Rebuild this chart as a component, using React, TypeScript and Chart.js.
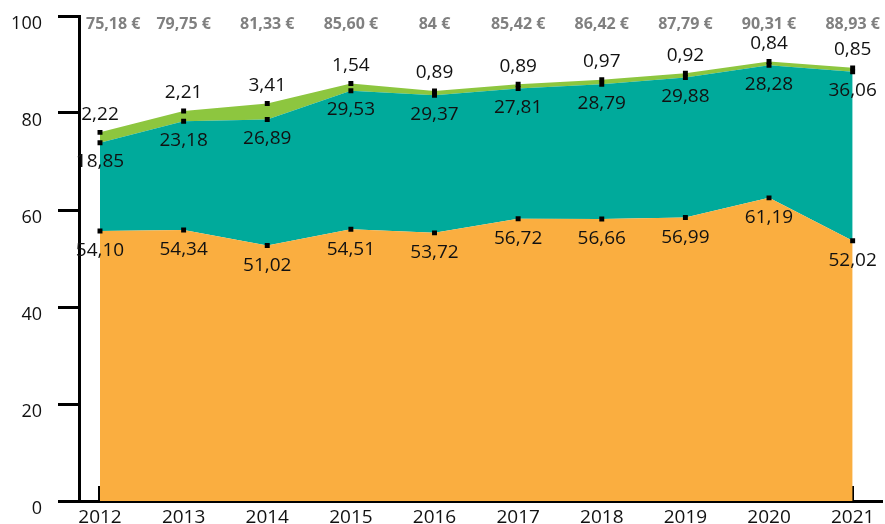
import React, { useEffect, useRef } from "react";
import { Chart, registerables } from "chart.js";

Chart.register(...registerables);

const years = [2012, 2013, 2014, 2015, 2016, 2017, 2018, 2019, 2020, 2021];
const orangeValues = [54.1, 54.34, 51.02, 54.51, 53.72, 56.72, 56.66, 56.99, 61.19, 52.02];
const tealValues = [18.85, 23.18, 26.89, 29.53, 29.37, 27.81, 28.79, 29.88, 28.28, 36.06];
const greenValues = [2.22, 2.21, 3.41, 1.54, 0.89, 0.89, 0.97, 0.92, 0.84, 0.85];
const totalLabels = ["75,18 €", "79,75 €", "81,33 €", "85,60 €", "84 €", "85,42 €", "86,42 €", "87,79 €", "90,31 €", "88,93 €"];
const yTicks = [0, 20, 40, 60, 80, 100];

const fmt = (v: number) => v.toFixed(2).replace(".", ",");

const labelPlugin = {
  id: "valueLabels",
  afterDatasetsDraw(chart: any) {
    const ctx = chart.ctx;
    ctx.save();
    ctx.font = '19px "Open Sans"';
    ctx.fillStyle = "#111";
    ctx.textAlign = "center";
    ctx.textBaseline = "middle";
    const offsets = [20, 19, -18];
    chart.data.datasets.forEach((ds: any, di: number) => {
      const meta = chart.getDatasetMeta(di);
      meta.data.forEach((pt: any, i: number) => {
        ctx.fillText(fmt(ds.data[i].y), pt.x, pt.y + offsets[di]);
      });
    });
    ctx.font = 'bold 16px "Open Sans"';
    ctx.fillStyle = "#808080";
    const meta = chart.getDatasetMeta(2);
    const yAxis = chart.scales.y;
    meta.data.forEach((pt: any, i: number) => {
      const w = ctx.measureText(totalLabels[i]).width;
      let x = pt.x;
      x = Math.max(x, yAxis.right + 7 + w / 2);
      x = Math.min(x, chart.width - 1 - w / 2);
      ctx.fillText(totalLabels[i], x, chart.chartArea.top + 8);
    });
    ctx.restore();
  },
};

export default function App() {
  const ref = useRef<HTMLCanvasElement | null>(null);
  useEffect(() => {
    if (!ref.current) return;
    const pointOpts = {
      pointRadius: 3.5,
      pointStyle: "rect",
      pointBackgroundColor: "#000",
      pointBorderWidth: 0,
      pointHoverRadius: 3.5,
      borderWidth: 0,
      tension: 0,
      yAxisID: "yd",
    };
    const chart = new Chart(ref.current, {
      type: "line",
      data: {
        datasets: [
          {
            label: "orange",
            data: years.map((x, i) => ({ x, y: orangeValues[i] })),
            backgroundColor: "#FAAE40",
            borderColor: "#FAAE40",
            fill: "start",
            ...pointOpts,
          },
          {
            label: "teal",
            data: years.map((x, i) => ({ x, y: tealValues[i] })),
            backgroundColor: "#00AA9B",
            borderColor: "#00AA9B",
            fill: "-1",
            ...pointOpts,
          },
          {
            label: "green",
            data: years.map((x, i) => ({ x, y: greenValues[i] })),
            backgroundColor: "#8DC63F",
            borderColor: "#8DC63F",
            fill: "-1",
            ...pointOpts,
          },
        ],
      } as any,
      options: {
        animation: false,
        responsive: false,
        devicePixelRatio: 1,
        layout: { padding: { top: 16, left: 0, right: 0, bottom: 0 } },
        plugins: { legend: { display: false }, tooltip: { enabled: false } },
        scales: {
          x: {
            type: "linear",
            position: "bottom",
            min: 2011.749,
            max: 2021.345,
            afterBuildTicks: (s: any) => {
              s.ticks = years.map((v) => ({ value: v }));
            },
            afterFit: (s: any) => {
              s.height = 23;
              s.paddingLeft = 0;
              s.paddingRight = 0;
            },
            grid: { drawOnChartArea: false, drawTicks: true, tickLength: -15, color: "#000", lineWidth: 3 },
            border: { display: true, color: "#000", width: 3 },
            ticks: {
              callback: (v: any) => String(v),
              font: { family: "Open Sans", size: 19 },
              color: "#111",
              padding: 20,
              maxRotation: 0,
              autoSkip: false,
            },
          },
          y: {
            type: "linear",
            position: "left",
            min: 0,
            max: 100,
            afterBuildTicks: (s: any) => {
              s.ticks = yTicks.map((v) => ({ value: v }));
            },
            afterFit: (s: any) => {
              s.width = 79;
              s.paddingTop = 0;
              s.paddingBottom = 0;
            },
            grid: { drawOnChartArea: false, drawTicks: true, tickLength: 21, color: "#000", lineWidth: 3 },
            border: { display: true, color: "#000", width: 3 },
            ticks: {
              font: { family: "Open Sans", size: 18 },
              color: "#111",
              padding: 16,
              labelOffset: 8,
            },
          },
          yd: {
            type: "linear",
            display: false,
            stacked: true,
            min: -3.5,
            max: 100,
          },
        },
      } as any,
      plugins: [labelPlugin],
    });
    return () => chart.destroy();
  }, []);
  return (
    <div style={{ position: "absolute", left: 0, top: 0, width: 885, height: 524 }}>
      <canvas ref={ref} width={885} height={524} style={{ display: "block" }} />
    </div>
  );
}
